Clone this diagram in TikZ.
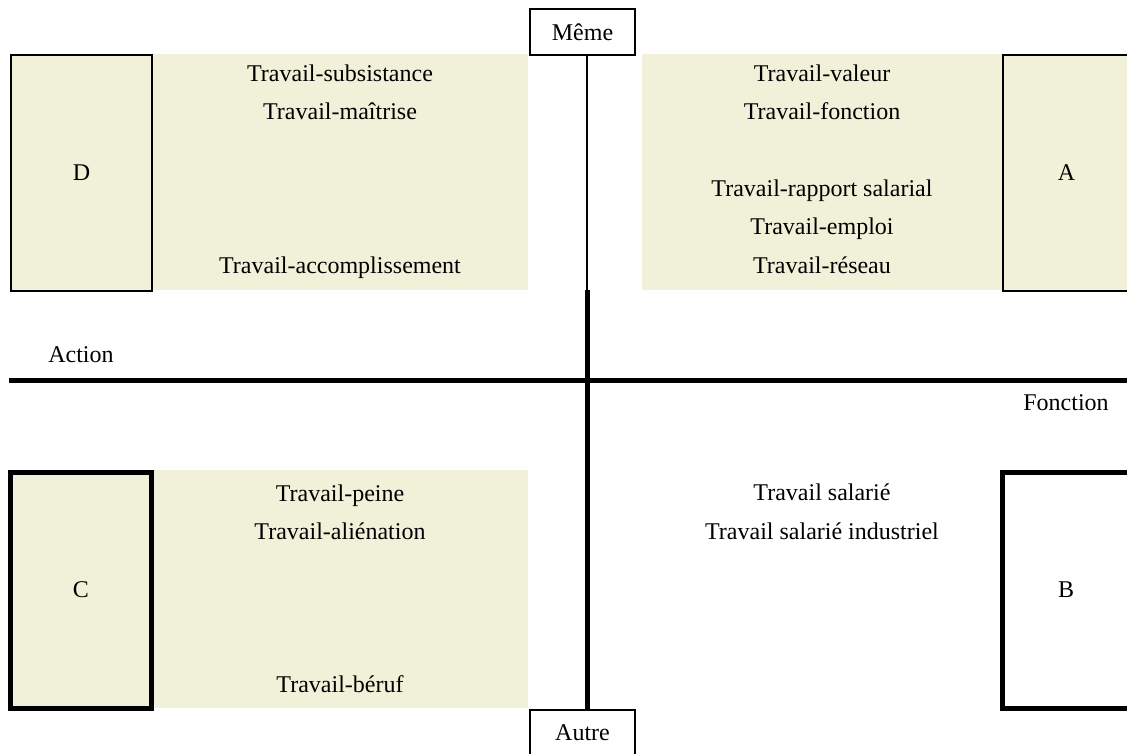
\documentclass[tikz,border=0pt]{standalone}
\usepackage{fontspec}
\setmainfont{Liberation Serif}
\usepackage{tikz}
\usetikzlibrary{calc,positioning}
\definecolor{beige}{RGB}{241,241,217}

\begin{document}
\begin{tikzpicture}[x=1pt, y=-1pt, font=\fontsize{24}{29}\selectfont]
    \tikzset{PoleStyle/.style = {draw, line width=1.5pt, fill=white,
        minimum width=105pt, minimum height=46pt, inner sep=0pt},
      CaseStyle/.style = {draw, line width=1.5pt, fill=beige,
        minimum height=236pt, inner sep=0pt},
      CaseForte/.style = {CaseStyle, line width=5pt},
      ItemStyle/.style = {anchor=base, inner sep=0pt},
      AxeFin/.style = {line width=2pt},
      AxeFort/.style = {line width=5pt}}
    \useasboundingbox (0,0) rectangle (1127,754);
    \fill[beige] (152,54) rectangle (528,290);
    \fill[beige] (642,54) rectangle (1003,290);
    \fill[beige] (152,470) rectangle (528,708);
    \node[CaseStyle, minimum width=141pt] (D) at (81.5,173) {D};
    \node[CaseStyle, minimum width=127pt] (A) at (1066.5,173) {A};
    \node[CaseForte, minimum width=141pt] (C) at (81,590) {C};
    \node[CaseForte, minimum width=127pt, fill=white] (B) at (1066,590) {B};
    \node[PoleStyle] (meme) at (582.5,32) {Même};
    \node[PoleStyle] (autre) at (582.5,733) {Autre};
    \coordinate (vmid) at (587,290);
    \coordinate (hleft) at (9,380);
    \coordinate (hright) at (1127,380);
    \draw[AxeFin] (meme.south -| vmid) -- (vmid);
    \draw[AxeFort] (vmid) -- (autre.north -| vmid);
    \draw[AxeFort] (hleft) -- (hright);
    \node[ItemStyle] (action) at (81,362) {Action};
    \node[ItemStyle] (fonction) at (1066,410) {Fonction};
    \node[ItemStyle] (subs) at (340,82) {Travail-subsistance};
    \node[ItemStyle] (maitr) at (340,120) {Travail-maîtrise};
    \node[ItemStyle] (accomp) at (340,273) {Travail-accomplissement};
    \node[ItemStyle] (valeur) at (822,82) {Travail-valeur};
    \node[ItemStyle] (fonct) at (822,120) {Travail-fonction};
    \node[ItemStyle] (rapport) at (822,197) {Travail-rapport salarial};
    \node[ItemStyle] (emploi) at (822,235) {Travail-emploi};
    \node[ItemStyle] (reseau) at (822,273) {Travail-réseau};
    \node[ItemStyle] (peine) at (340,501) {Travail-peine};
    \node[ItemStyle] (alien) at (340,539) {Travail-aliénation};
    \node[ItemStyle] (beruf) at (340,692) {Travail-béruf};
    \node[ItemStyle] (salar) at (822,500) {Travail salarié};
    \node[ItemStyle] (indus) at (822,539) {Travail salarié industriel};
  \end{tikzpicture}
\end{document}
